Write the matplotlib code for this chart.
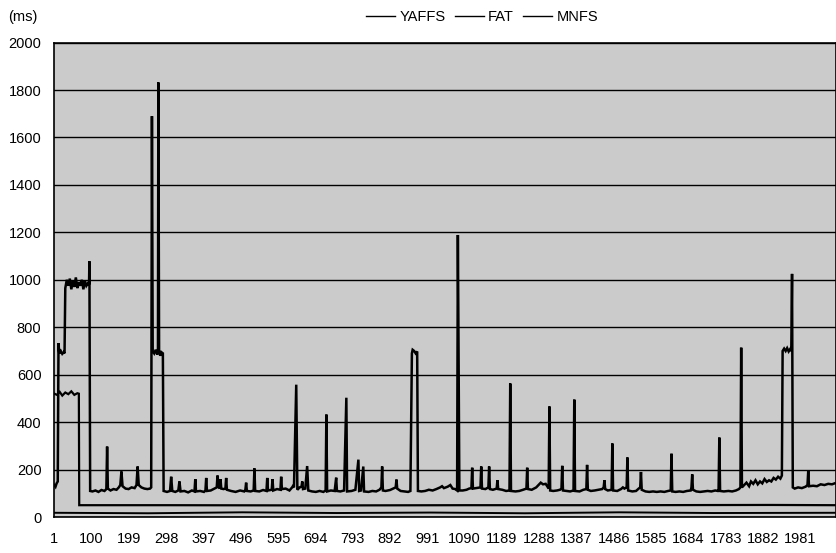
import matplotlib
matplotlib.use("Agg")
import matplotlib.pyplot as plt

plt.rcParams['font.family'] = ['Liberation Sans', 'DejaVu Sans']

# (x, ms) vertices
yaffs_pts = [
    (1, 135), (4, 128), (7, 142), (10, 150), (12, 733), (14, 690), (18, 700), (22, 688), (26, 695), (28, 690),
    (30, 965), (34, 1000), (38, 975), (42, 1005), (46, 960), (50, 995), (54, 970), (58, 1010), (62, 965),
    (66, 990), (70, 975), (74, 1000), (78, 960), (82, 995), (86, 975), (90, 985), (93, 980), (94, 1078), (96, 110),
    (102, 108), (110, 112), (118, 106), (126, 114), (134, 110), (139, 118), (141, 297), (143, 120), (150, 112),
    (158, 118), (166, 115), (172, 125), (176, 135), (179, 192), (182, 130), (190, 120), (198, 118), (206, 125),
    (214, 122), (219, 135), (222, 213), (225, 135), (232, 125), (240, 120), (248, 118), (255, 120), (258, 125),
    (260, 1690), (262, 700), (266, 690), (270, 705), (274, 685), (276, 700), (277, 1832), (279, 700), (282, 680),
    (285, 695), (289, 690), (291, 110),
    (300, 106), (308, 110), (311, 170), (314, 110), (322, 106), (330, 112), (333, 150), (336, 108), (346, 110),
    (356, 104), (366, 112), (373, 108), (375, 160), (377, 108), (388, 110), (398, 106), (402, 112), (404, 165),
    (406, 110), (416, 112), (426, 120), (432, 125), (434, 175), (437, 130), (440, 120), (442, 160), (444, 120),
    (450, 118), (455, 120), (457, 165), (459, 115), (470, 110), (482, 106), (494, 112), (505, 108), (508, 115),
    (510, 145), (512, 110), (522, 108), (530, 112), (532, 205), (534, 110), (545, 108), (555, 114), (564, 110),
    (566, 165), (568, 112), (578, 115), (580, 160), (582, 112), (592, 118), (601, 115), (603, 170), (605, 118),
    (615, 120), (625, 112), (632, 125), (634, 130), (637, 125), (643, 558), (646, 115), (652, 125), (657, 128),
    (659, 150), (661, 118), (667, 120), (672, 215), (675, 112),
    (685, 108), (695, 106), (705, 110), (715, 106), (721, 112), (723, 432), (725, 108), (735, 112), (745, 110),
    (749, 166), (751, 110), (760, 108), (770, 112), (776, 503), (778, 108), (790, 110), (800, 115), (808, 242),
    (810, 110), (815, 112), (821, 213), (823, 108), (835, 106), (845, 110), (855, 108), (864, 115), (869, 125),
    (871, 213), (873, 112), (880, 110), (892, 114), (900, 120), (907, 125), (909, 158), (911, 120), (920, 110),
    (930, 108), (940, 106), (946, 110), (950, 690), (952, 705), (956, 700), (960, 690), (964, 698), (966, 110),
    (975, 108), (985, 110), (995, 115), (1005, 112), (1015, 118), (1025, 125), (1030, 130), (1035, 122),
    (1045, 128), (1052, 135), (1058, 120), (1065, 118), (1070, 112), (1072, 1189), (1074, 680), (1076, 112),
    (1085, 112), (1095, 115), (1102, 120), (1108, 122), (1110, 208), (1112, 120), (1120, 122), (1132, 125),
    (1134, 213), (1136, 120), (1145, 118), (1153, 125), (1155, 213), (1157, 118), (1165, 115), (1175, 120),
    (1177, 155), (1179, 118), (1190, 115), (1200, 110), (1209, 112), (1211, 563), (1213, 110), (1225, 108),
    (1235, 110), (1245, 115), (1254, 120), (1256, 208), (1258, 118), (1268, 115), (1280, 125), (1286, 135),
    (1292, 145), (1298, 138), (1305, 140), (1310, 128), (1313, 120), (1315, 466), (1317, 112), (1325, 110),
    (1335, 112), (1343, 115), (1347, 120), (1349, 216), (1351, 112), (1360, 110), (1370, 108), (1379, 112),
    (1381, 495), (1383, 110), (1395, 108), (1405, 115), (1413, 118), (1415, 220), (1417, 115), (1425, 110),
    (1435, 112), (1445, 115), (1455, 118), (1459, 125), (1461, 155), (1463, 118), (1470, 112), (1480, 115),
    (1482, 310), (1484, 112), (1495, 110), (1505, 118), (1510, 125), (1514, 120), (1520, 125), (1522, 251),
    (1524, 112), (1535, 108), (1545, 110), (1552, 120), (1556, 125), (1558, 190), (1560, 115), (1570, 108),
    (1580, 106), (1590, 108), (1600, 106), (1610, 108), (1620, 106), (1630, 110), (1637, 112), (1639, 267),
    (1641, 108), (1650, 106), (1660, 108), (1670, 106), (1680, 110), (1690, 112), (1692, 125), (1694, 180),
    (1696, 115), (1705, 108), (1715, 106), (1725, 108), (1735, 110), (1745, 108), (1755, 112), (1762, 110),
    (1764, 115), (1766, 335), (1768, 110), (1778, 108), (1790, 110), (1800, 108), (1810, 112), (1818, 118),
    (1822, 125), (1824, 714), (1826, 125),
    (1832, 135), (1838, 145), (1845, 130), (1850, 150), (1856, 140), (1862, 155), (1868, 138), (1874, 150),
    (1880, 142), (1886, 160), (1892, 148), (1898, 155), (1904, 150), (1910, 165), (1916, 158), (1922, 170),
    (1928, 162), (1932, 175),
    (1934, 700), (1938, 710), (1942, 700), (1946, 712), (1950, 698), (1954, 708), (1957, 700), (1959, 1025),
    (1961, 125), (1966, 120), (1975, 125), (1985, 122), (1995, 128), (2000, 135), (2002, 195), (2004, 130),
    (2015, 132), (2025, 130), (2035, 138), (2045, 135), (2055, 140), (2065, 138), (2072, 142),
]

fat_pts = [
    (1, 520), (8, 515), (15, 528), (22, 512), (30, 525), (38, 518), (46, 530), (54, 515), (62, 522), (66, 520),
    (67, 50), (300, 50), (700, 49), (1100, 50), (1500, 50), (1900, 51), (2072, 50),
]

mnfs_pts = [
    (1, 18), (250, 16), (500, 20), (750, 17), (1000, 19), (1250, 16), (1500, 20), (1750, 17), (2072, 18),
]

series = [("YAFFS", yaffs_pts, 1.8), ("FAT", fat_pts, 1.6), ("MNFS", mnfs_pts, 1.4)]
x_ticks = list(range(1, 2000, 99))
y_ticks = list(range(0, 2001, 200))

fig = plt.figure(figsize=(8.37, 5.53), dpi=100)
ax = fig.add_axes([0.0645, 0.065, 0.934, 0.858])
ax.set_facecolor('#cbcbcb')

for name, pts, lw in series:
    xs = [p[0] for p in pts]
    ys = [p[1] for p in pts]
    ax.plot(xs, ys, color='black', lw=lw, label=name, solid_joinstyle='miter')

ax.set_xlim(0, 2075)
ax.set_ylim(0, 2000)
ax.set_yticks(y_ticks)
ax.set_xticks(x_ticks)
ax.set_xticklabels([str(t) for t in x_ticks])
ax.tick_params(axis='both', length=0, labelsize=10.5)
ax.tick_params(axis='x', pad=11)
ax.tick_params(axis='y', pad=9)
ax.yaxis.grid(True, color='black', lw=1.0)
ax.set_axisbelow(True)
for s in ax.spines.values():
    s.set_color('black')
    s.set_linewidth(1.2)

fig.text(0.01, 0.969, "(ms)", fontsize=10.5, va='center', ha='left')
leg = fig.legend(loc='center', bbox_to_anchor=(0.576, 0.969), ncol=3, frameon=False,
                 fontsize=10.5, handlelength=2.0, handletextpad=0.3, columnspacing=0.6)
for ln in leg.get_lines():
    ln.set_linewidth(1.0)

fig.savefig("out.png", dpi=100)
